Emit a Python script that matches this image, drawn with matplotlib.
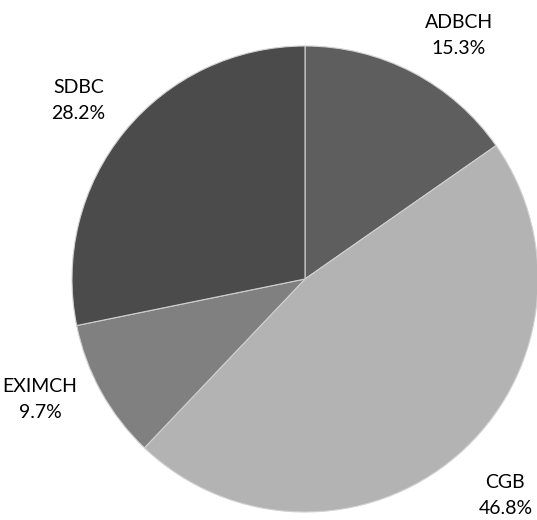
import matplotlib
matplotlib.use("Agg")
import matplotlib.pyplot as plt

names = ["ADBCH", "CGB", "EXIMCH", "SDBC"]
shares = [15.3, 46.8, 9.7, 28.2]
colors = ["#5e5e5e", "#b3b3b3", "#808080", "#4b4b4b"]
# label anchor positions (pie-radius units, relative to pie centre)
label_pos = [(0.66, 1.046), (0.86, -0.93), (-1.137, -0.519), (-0.972, 0.768)]

W, H = 537, 520
cx, cy_top, R = 305, 279, 233
fig = plt.figure(figsize=(W / 100, H / 100), dpi=100)
ax = fig.add_axes([0, 0, 1, 1])
labels = [f"{n}\n{v}%" for n, v in zip(names, shares)]
wedges, texts = ax.pie(shares, labels=labels, colors=colors, startangle=90,
                       counterclock=False, radius=1.0, labeldistance=1.25,
                       wedgeprops=dict(edgecolor="#d0d0d0", linewidth=0.8))
for t, p in zip(texts, label_pos):
    t.set_position(p)
    t.set_ha("center")
    t.set_va("center")
    t.set_fontfamily("Lato")
    t.set_fontsize(14)
    t.set_linespacing(1.65)
    t.set_color("black")
ax.set_xlim(-cx / R, (W - cx) / R)
ax.set_ylim(-(H - cy_top) / R, cy_top / R)
ax.set_aspect("auto")
ax.axis("off")
fig.savefig("out.png", dpi=100)
